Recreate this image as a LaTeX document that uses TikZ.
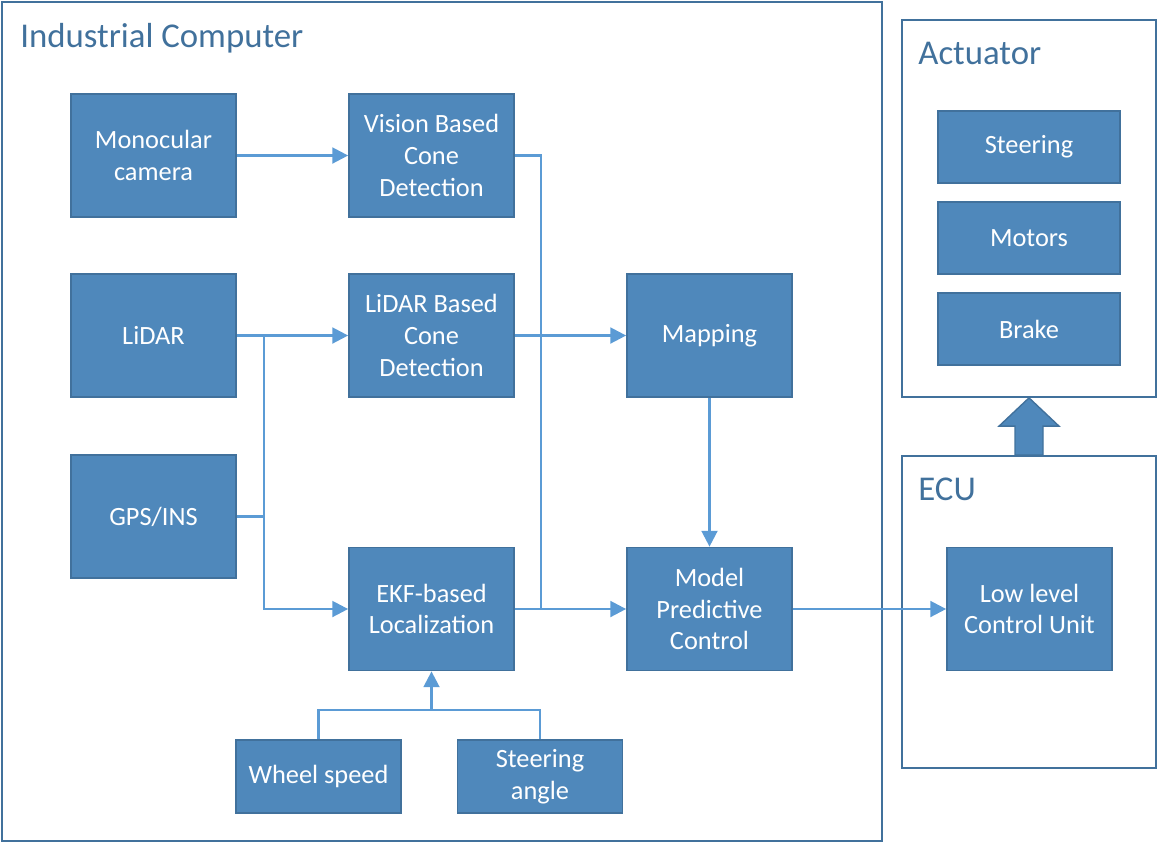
\documentclass[tikz,border=0pt]{standalone}
\usepackage{fontspec}
\setmainfont{Carlito}
\usetikzlibrary{arrows.meta,calc}
\definecolor{boxblue}{HTML}{4F88BB}
\definecolor{boxedge}{HTML}{41719C}
\definecolor{linkblue}{HTML}{5B9BD5}
\definecolor{titleblue}{HTML}{41719C}

\begin{document}
\begin{tikzpicture}[
            x=0.02cm, y=-0.02cm,
            block/.style={rectangle, draw=boxedge, fill=boxblue, line width=1pt, text=white, align=center,
                font=\fontsize{15}{18.1}\selectfont, minimum width=3.3cm, minimum height=2.46cm, inner sep=0pt},
            smallblock/.style={block, minimum height=1.46cm},
            actblock/.style={block, minimum width=3.64cm, minimum height=1.44cm},
            frame/.style={rectangle, draw=boxedge, line width=1pt, inner sep=0pt},
            title/.style={anchor=base west, text=titleblue, font=\fontsize{19.8}{23}\selectfont, inner sep=0pt},
            line/.style={draw=linkblue, line width=1.4pt},
            link/.style={line, -{Triangle[length=9pt, width=9pt]}},
        ]
        \useasboundingbox (0,0) rectangle (1158,843);

        % containers
        \node[frame, minimum width=17.6cm, minimum height=16.78cm] (pc) at (442,421.5) {};
        \node[frame, minimum width=5.08cm, minimum height=7.54cm] (act) at (1029,208.5) {};
        \node[frame, minimum width=5.08cm, minimum height=6.24cm] (ecu) at (1029,612) {};
        \node[title] (pctitle) at (20,47) {Industrial Computer};
        \node[title] (acttitle) at (918,64) {Actuator};
        \node[title] (ecutitle) at (918,500) {ECU};

        % sensors and processing
        \node[block] (cam) at (153.5,155.5) {Monocular\\camera};
        \node[block] (vision) at (431.5,155.5) {Vision Based\\Cone\\Detection};
        \node[block] (lidar) at (153.5,335.5) {LiDAR};
        \node[block] (lidardet) at (431.5,335.5) {LiDAR Based\\Cone\\Detection};
        \node[block] (mapping) at (709.5,335.5) {Mapping};
        \node[block] (gps) at (153.5,516.5) {GPS/INS};
        \node[block] (ekf) at (431.5,609) {EKF-based\\Localization};
        \node[block] (mpc) at (709.5,609) {Model\\Predictive\\Control};
        \node[smallblock] (wheel) at (318.5,776.5) {Wheel speed};
        \node[smallblock] (steerang) at (540,776.5) {Steering\\angle};

        % actuators and ECU
        \node[actblock] (steering) at (1029,147) {Steering};
        \node[actblock] (motors) at (1029,238) {Motors};
        \node[actblock] (brake) at (1029,329) {Brake};
        \node[block] (llc) at (1029.5,609) {Low level\\Control Unit};

        \coordinate (lsplit) at (264,335.5);
        \coordinate (vjoin) at (541,609);
        \coordinate (ojoin) at (431.5,710);

        \draw[link] (cam) -- (vision);
        \draw[link] (lidar) -- (lidardet);
        \draw[link] (lsplit) |- (ekf);
        \draw[line] (gps) -- (gps.east -| lsplit);
        \draw[line] (vision) -| (vjoin);
        \draw[link] (lidardet) -- (mapping);
        \draw[link] (mapping) -- (mpc);
        \draw[link] (ekf) -- (mpc);
        \draw[link] (mpc) -- (llc);
        \draw[line] (wheel.north) |- (ojoin) -| (steerang.north);
        \draw[link] (ojoin) -- (ekf);

        % ECU to actuator
        \draw[boxedge, fill=boxblue, line width=0.8pt]
            ($(ecu.north)+(-14,0)$) -- ++(0,-29) -- ++(-16,0) -- (act.south)
            -- ($(ecu.north)+(30,-29)$) -- ++(-16,0) -- ($(ecu.north)+(14,0)$) -- cycle;
    \end{tikzpicture}
\end{document}
